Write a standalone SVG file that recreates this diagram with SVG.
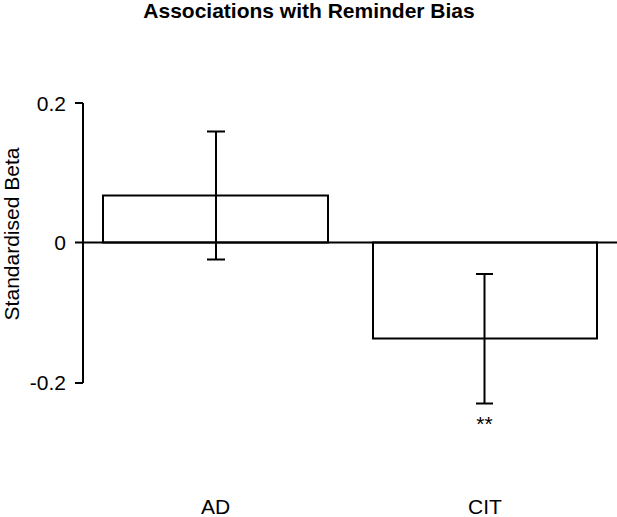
<svg xmlns="http://www.w3.org/2000/svg" width="617" height="517" viewBox="0 0 617 517">
  <style>
    .ln { stroke: #000; stroke-width: 2; fill: none; }
    .bar { stroke: #000; stroke-width: 2; fill: #fff; }
    .t { font-family: "Liberation Sans", Arial, sans-serif; font-size: 21px; fill: #000; }
    .title { font-family: "Liberation Sans", Arial, sans-serif; font-size: 21px; font-weight: bold; fill: #000; }
  </style>
  <rect width="617" height="517" fill="#fff"/>
  <text class="title" x="309" y="18" text-anchor="middle">Associations with Reminder Bias</text>
  <g id="y-axis">
    <path class="ln" d="M83 103 V383 M75 103 H83 M75 383 H83"/>
    <text class="t" x="66" y="111" text-anchor="end">0.2</text>
    <text class="t" x="66" y="250" text-anchor="end">0</text>
    <text class="t" x="66" y="390" text-anchor="end">-0.2</text>
    <text class="t" transform="translate(18.5 234) rotate(-90)" text-anchor="middle">Standardised Beta</text>
  </g>
  <g id="bar-AD">
    <rect class="bar" x="103" y="195.5" width="225" height="47"/>
    <text class="t" x="215.5" y="514" text-anchor="middle">AD</text>
  </g>
  <g id="bar-CIT">
    <rect class="bar" x="373" y="242.5" width="224" height="96"/>
    <text class="t" x="485" y="514" text-anchor="middle">CIT</text>
    <text class="t" x="484.5" y="431" text-anchor="middle">**</text>
  </g>
  <g id="connectors">
    <path class="ln" d="M75 242.5 H617"/>
    <path class="ln" d="M216 131.5 V259.5 M207 131.5 H225 M207 259.5 H225"/>
    <path class="ln" d="M484.5 274 V403.5 M476 274 H493 M476 403.5 H493"/>
  </g>
</svg>
